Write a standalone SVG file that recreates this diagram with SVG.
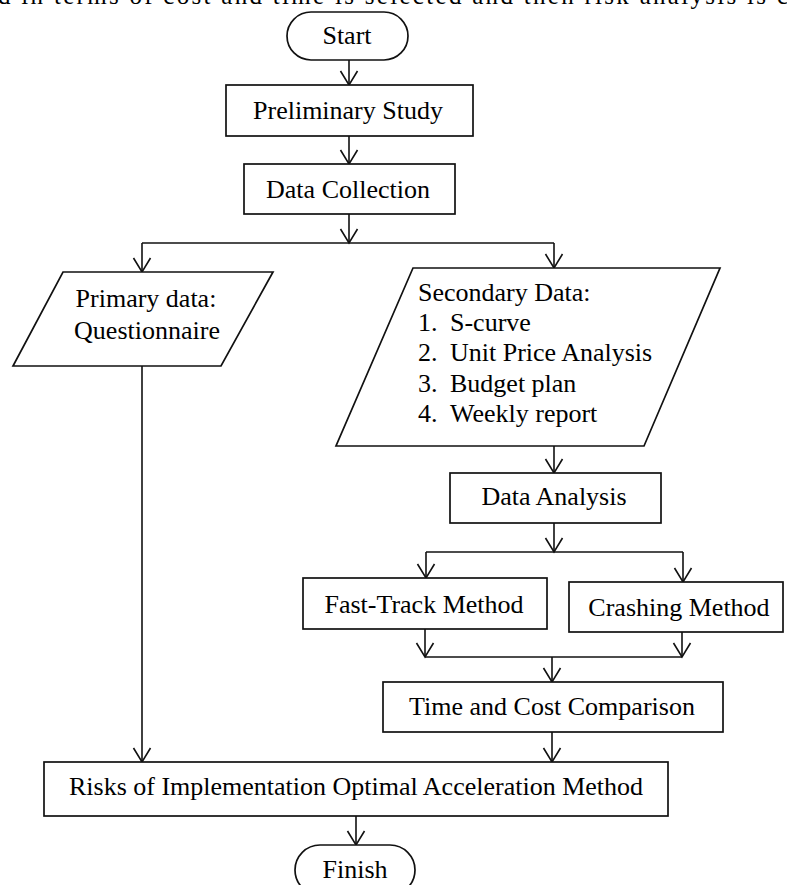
<svg xmlns="http://www.w3.org/2000/svg" width="787" height="885" viewBox="0 0 787 885">
<style>
.box{fill:#fff;stroke:#111;stroke-width:1.7}
.t{font-family:"Liberation Serif","Times New Roman",serif;font-size:26px;fill:#000}
.c{text-anchor:middle}
.ln{fill:none;stroke:#111;stroke-width:1.6}
</style>
<defs>
<marker id="ah" markerUnits="userSpaceOnUse" markerWidth="20" markerHeight="20" viewBox="-10 -16 20 20" refX="0" refY="0" orient="auto-start-reverse" overflow="visible">
<path d="M-14,-8.5 L0,0 L-14,8.5" fill="none" stroke="#111" stroke-width="1.6"/>
</marker>
</defs>
<rect width="787" height="885" fill="#fff"/>
<text class="t" x="-2" y="4" textLength="790" lengthAdjust="spacing" style="font-size:25px">d in terms of cost and time is selected and then risk analysis is c</text>
<g id="connectors">
<line class="ln" x1="349" y1="60" x2="349" y2="85" marker-end="url(#ah)"/>
<line class="ln" x1="349" y1="136" x2="349" y2="164" marker-end="url(#ah)"/>
<line class="ln" x1="349" y1="214" x2="349" y2="243" marker-end="url(#ah)"/>
<line class="ln" x1="142" y1="243" x2="554" y2="243"/>
<line class="ln" x1="142" y1="243" x2="142" y2="272" marker-end="url(#ah)"/>
<line class="ln" x1="554" y1="243" x2="554" y2="268" marker-end="url(#ah)"/>
<line class="ln" x1="142" y1="366" x2="142" y2="762" marker-end="url(#ah)"/>
<line class="ln" x1="554" y1="446" x2="554" y2="473" marker-end="url(#ah)"/>
<line class="ln" x1="554" y1="523" x2="554" y2="552" marker-end="url(#ah)"/>
<line class="ln" x1="426" y1="552" x2="683" y2="552"/>
<line class="ln" x1="426" y1="552" x2="426" y2="578" marker-end="url(#ah)"/>
<line class="ln" x1="683" y1="552" x2="683" y2="582" marker-end="url(#ah)"/>
<line class="ln" x1="425" y1="629" x2="425" y2="657" marker-end="url(#ah)"/>
<line class="ln" x1="682" y1="632" x2="682" y2="657" marker-end="url(#ah)"/>
<line class="ln" x1="425" y1="657" x2="682" y2="657"/>
<line class="ln" x1="552" y1="657" x2="552" y2="682" marker-end="url(#ah)"/>
<line class="ln" x1="552" y1="732" x2="552" y2="762" marker-end="url(#ah)"/>
<line class="ln" x1="356" y1="816" x2="356" y2="845" marker-end="url(#ah)"/>
</g>
<g id="start">
<rect class="box" x="287" y="12" width="121" height="48" rx="24"/>
<text class="t c" x="347" y="44">Start</text>
</g>
<g id="preliminary">
<rect class="box" x="226" y="85" width="247" height="51"/>
<text class="t c" x="348" y="119">Preliminary Study</text>
</g>
<g id="data-collection">
<rect class="box" x="244" y="164" width="211" height="50"/>
<text class="t c" x="348" y="198">Data Collection</text>
</g>
<g id="primary">
<polygon class="box" points="63,272 273,272 221,366 13,366"/>
<text class="t c" x="146" y="307">Primary data:</text>
<text class="t c" x="147" y="339">Questionnaire</text>
</g>
<g id="secondary">
<polygon class="box" points="413,268 720,268 644,446 336,446"/>
<text class="t" x="418" y="301">Secondary Data:</text>
<text class="t" x="418" y="331">1.</text><text class="t" x="450" y="331">S-curve</text>
<text class="t" x="418" y="361">2.</text><text class="t" x="450" y="361">Unit Price Analysis</text>
<text class="t" x="418" y="392">3.</text><text class="t" x="450" y="392">Budget plan</text>
<text class="t" x="418" y="422">4.</text><text class="t" x="450" y="422">Weekly report</text>
</g>
<g id="data-analysis">
<rect class="box" x="450" y="473" width="211" height="50"/>
<text class="t c" x="554" y="505">Data Analysis</text>
</g>
<g id="fast-track">
<rect class="box" x="303" y="578" width="244" height="51"/>
<text class="t c" x="424" y="613">Fast-Track Method</text>
</g>
<g id="crashing">
<rect class="box" x="569" y="582" width="214" height="50"/>
<text class="t c" x="679" y="616">Crashing Method</text>
</g>
<g id="comparison">
<rect class="box" x="383" y="682" width="340" height="50"/>
<text class="t c" x="552" y="715">Time and Cost Comparison</text>
</g>
<g id="risks">
<rect class="box" x="44" y="762" width="624" height="54"/>
<text class="t c" x="356" y="795">Risks of Implementation Optimal Acceleration Method</text>
</g>
<g id="finish">
<rect class="box" x="295" y="845" width="120" height="50" rx="25"/>
<text class="t c" x="355" y="878">Finish</text>
</g>
</svg>
